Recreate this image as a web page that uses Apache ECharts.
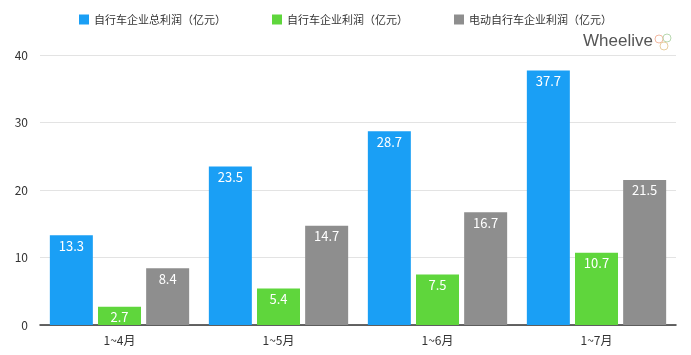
<!DOCTYPE html>
<html><head><meta charset="utf-8">
<script src="https://cdn.jsdelivr.net/npm/echarts@6/dist/echarts.min.js"></script>
<style>html,body{margin:0;padding:0;background:#fff}#c{width:691px;height:355px}</style>
</head><body><div id="c"></div>
<script>
const categories = ['1~4月', '1~5月', '1~6月', '1~7月'];
const seriesNames = ['自行车企业总利润（亿元）', '自行车企业利润（亿元）', '电动自行车企业利润（亿元）'];
const totalProfit = [13.3, 23.5, 28.7, 37.7];
const bikeProfit = [2.7, 5.4, 7.5, 10.7];
const ebikeProfit = [8.4, 14.7, 16.7, 21.5];
const yTicks = [0, 10, 20, 30, 40];
const colors = ['#1a9ff5', '#5fd63c', '#8e8e8e'];
const font = '"Noto Sans CJK SC", "Liberation Sans", sans-serif';

const chart = echarts.init(document.getElementById('c'));
const mk = (name, data, color) => ({
  name, type: 'bar', data, barWidth: 43, barGap: '12%',
  itemStyle: { color },
  label: { show: true, position: 'insideTop', color: '#fff', fontSize: 13, fontFamily: font, distance: 4 }
});
chart.setOption({
  animation: false,
  textStyle: { fontFamily: font },
  legend: {
    top: 9, left: 'center', itemWidth: 10, itemHeight: 10, itemGap: 46, icon: 'rect',
    textStyle: { fontSize: 11, color: '#333', fontFamily: font }
  },
  grid: { left: 40, right: 15, top: 55, bottom: 30 },
  xAxis: {
    type: 'category', data: categories,
    axisLine: { lineStyle: { color: '#333', width: 1.5 } },
    axisTick: { show: false },
    axisLabel: { color: '#333', fontSize: 12, margin: 9, fontFamily: font }
  },
  yAxis: {
    type: 'value', min: yTicks[0], max: yTicks[yTicks.length - 1], interval: 10,
    axisLine: { show: false }, axisTick: { show: false },
    axisLabel: { color: '#333', fontSize: 12, margin: 12, fontFamily: font },
    splitLine: { lineStyle: { color: '#e3e3e3' } }
  },
  graphic: [
    { type: 'text', left: 583, top: 33, style: { text: 'Wheelive', fill: '#555', font: '17px "Liberation Sans", sans-serif' } },
    { type: 'circle', shape: { cx: 659, cy: 39, r: 4 }, style: { fill: 'none', stroke: '#f2b8a0', lineWidth: 1 } },
    { type: 'circle', shape: { cx: 667, cy: 38, r: 4 }, style: { fill: 'none', stroke: '#b8d8b0', lineWidth: 1 } },
    { type: 'circle', shape: { cx: 664, cy: 46, r: 4 }, style: { fill: 'none', stroke: '#e8cfa0', lineWidth: 1 } }
  ],
  series: [
    mk(seriesNames[0], totalProfit, colors[0]),
    mk(seriesNames[1], bikeProfit, colors[1]),
    mk(seriesNames[2], ebikeProfit, colors[2])
  ]
});
</script></body></html>
